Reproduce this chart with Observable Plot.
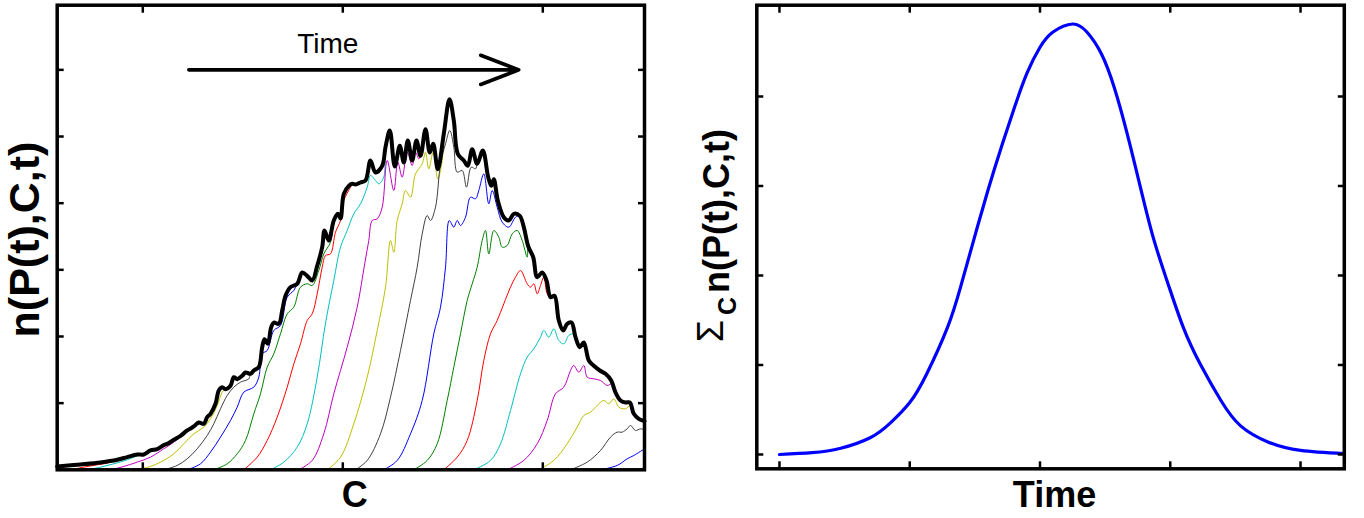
<!DOCTYPE html>
<html><head><meta charset="utf-8">
<script src="https://cdn.jsdelivr.net/npm/d3@7"></script>
<script src="https://cdn.jsdelivr.net/npm/@observablehq/plot@0.6"></script>
<style>
body{margin:0;background:#fff;}
#wrap{position:relative;width:1364px;height:518px;overflow:hidden;background:#fff;}
#wrap svg{position:absolute;top:0;}
</style></head><body><div id="wrap"></div>
<script>
// ---------- Left panel: envelope (thick black) ----------
const envC = [14.4,37.7,57.7,74.4,84.4,94.4,101,107.7,114.4,121,126,131,137.7,144.4,151,156,161,164.4,167.7,172.7,176,179.4,182.7,187.7,191,194.4,199.4,202.7,207.7,211,216,219.4,221.7,225,228.4,231,236,239.4,242.7,247.7,254.4,259.4,264.4,269.4,274.4,279.4,281.7,286,291,295,297.7,301,306,309.4,312.7,317.7,322.7,327.7,332.7,339.4,342.7,347,352,357,361,365,369.4,373.7,377.7,382.7,387,390.4,395,401,406.7,411,415,421,425,429.4,434.4,440,445.4,448.4,451,455,461,466,471,477,481,485.5,490.4,494.4,499.4,503.7,507.7,511.7,516,520.4,524.4,528.7,532.7,537,541,546,551,557,562.7,568.4,572.7,577.7,582.7,587,591,596,601.7];
const envV = [0.05,0.08,0.11,0.15,0.19,0.23,0.23,0.29,0.31,0.37,0.40,0.45,0.51,0.59,0.65,0.71,0.69,0.79,0.84,0.99,1.19,1.24,1.21,1.26,1.39,1.36,1.41,1.46,1.44,1.49,1.54,1.84,1.96,1.89,2.14,2.21,2.19,2.39,2.61,2.74,2.79,2.96,2.91,2.84,3.06,3.34,3.59,3.44,3.74,3.84,3.77,4.14,4.26,4.29,4.28,4.31,4.34,4.64,4.46,4.56,4.84,5.09,4.55,4.86,4.61,4.94,4.64,4.94,4.71,5.11,4.76,4.89,4.51,5.04,5.56,5.24,4.74,4.64,4.56,4.81,4.59,4.79,4.39,4.26,4.36,4.04,3.79,3.74,3.84,3.81,3.64,3.35,3.19,2.89,2.96,2.84,2.59,2.61,2.24,2.09,2.19,2.21,1.99,1.84,1.91,1.64,1.56,1.49,1.44,1.34,1.16,1.04,1.01,1.01,0.84,0.765,0.73];

// ---------- Left panel: time snapshots (thin coloured curves, MATLAB colour order) ----------
const curveColors = ["#ff0000","#00bfbf","#bf00bf","#bfbf00","#404040","#0000ff","#008000",
                     "#ff0000","#00bfbf","#bf00bf","#bfbf00","#404040","#0000ff","#008000",
                     "#ff0000","#00bfbf","#bf00bf","#bfbf00","#404040","#0000ff","#008000"];
const risingC = [
  [27.7,41,54.4,64.4],
  [44.4,57.7,71,84.4,94.4],
  [67.7,81,94.4,107.7,121,131,141],
  [94.4,107.7,117.7,131,141,151,161,167.7,174.4,179.4],
  [121,134.4,144.4,154.4,164.4,171,177.7,184.4,191,197.7,206],
  [144.4,157.7,167.7,177.7,187.7,194.4,201,211,216,219.4,224.4,231,237.7,244.4,251],
  [171,184.4,194.4,202.7,211,217.7,224.4,231,237.7,244.4,251,257.7,264.4,269.4,276,281,287.7],
  [201,214.4,224.4,234.4,244.4,251,257.7,264.4,269.4,274.4,279.4,282.7,287.7,292.7,297.7,301,307.7],
  [227.7,241,254.4,264.4,274.4,282.7,291,297.7,304.4,311,317.7,324.4,327.7,332.7,336,341],
  [256,269.4,281,291,304.4,314.4,322,326,329.4,334.4,339.4,344.4,351,355,359.4,364.4,369.4,372.7,376],
  [284.4,297.7,311,324.4,334.4,342.7,347.7,351,354.4,359.4,362.7,367.7,372.7,379.4,382.7,386,390.4,395,399.4],
  [312.7,324.4,337.7,347.7,357.7,367.7,374.4,379.4,384.4,387.7,392.7,397.7,402.7,407,411,414.4,419.4,423.7,428.4,432.7],
  [341,354.4,367.7,379.4,391,397.7,402.7,406.5,411,414.4,417.7,422.7,427.7,432.7,436,441,446,449.4,454.4,459.4,466,472.7],
  [371,384.4,394.4,404.4,411,417.7,424.4,429.4,434.4,439.4,442.7,446,451,456,459.4,464.4,469.4,474.4,479.4,484.4],
  [401,414.4,424.4,434.4,441,447.7,454.4,461,467.7,472.7,477.7,484.4,487.7,491,494.4,497.7,501,504.4],
  [431,447.7,457.7,467.7,477.7,484.4,491,497.7,501,506,511,516,521,526,531],
  [464.4,481,494.4,504.4,512.7,521,527.7,531,536,541,544.4,551,557.7,564.4,569.4],
  [496,511,524.4,534.4,541,547.7,554.4,561,566,571,576,582.7,587.7,592.7],
  [527.7,544.4,557.7,567.7,574.4,579.4,584.4,587.7,592.7,597.7,601.7],
  [557.7,574.4,584.4,591,601.7],
  [594.4,601.7]
];
const risingV = [
  [0,0.04,0.075,0.10],
  [0,0.04,0.09,0.15,0.21],
  [0,0.05,0.115,0.19,0.315,0.415,0.54],
  [0,0.05,0.115,0.24,0.39,0.54,0.64,0.765,0.965,1.165],
  [0,0.065,0.165,0.315,0.515,0.69,0.915,1.115,1.24,1.315,1.365],
  [0,0.09,0.265,0.49,0.74,0.94,1.165,1.24,1.39,1.74,1.79,2.09,2.165,2.59,2.69],
  [0,0.09,0.24,0.44,0.84,1.14,1.54,1.74,2.04,2.34,2.44,2.74,2.79,2.765,2.99,3.24,3.415],
  [0,0.19,0.44,0.79,1.24,1.59,1.89,2.24,2.34,2.64,3.04,3.215,3.24,3.565,3.74,4.04,4.24],
  [0,0.115,0.34,0.69,1.39,2.2,2.84,3.34,3.59,3.84,3.99,4.24,4.415,4.34,4.29,4.39],
  [0,0.14,0.54,1.14,1.84,2.44,3.1,3.44,3.74,3.765,3.94,4.64,4.19,4.615,4.39,4.765,4.565,4.765,4.665],
  [0,0.19,0.69,1.39,2.09,2.74,3.44,3.265,3.74,3.99,4.19,4.09,4.44,4.59,4.765,4.515,4.765,4.365,4.64],
  [0,0.14,0.54,1.09,1.79,2.54,3.04,3.54,3.815,3.74,3.94,4.59,4.89,5.09,4.84,4.465,4.49,4.24,4.54,4.515],
  [0,0.14,0.54,1.04,2.04,2.44,3.04,3.74,3.64,3.74,3.665,3.79,4.09,4.065,4.19,4.44,3.99,4.19,3.94,3.715,3.64,3.79],
  [0,0.14,0.39,1.04,1.54,2.04,2.54,2.79,3.04,3.44,3.59,3.24,3.59,3.49,3.34,3.365,3.54,3.59,3.44,3.19],
  [0,0.19,0.44,1.04,1.64,2.04,2.24,2.49,2.74,2.89,2.99,2.79,2.74,2.79,2.64,2.765,2.89,2.64],
  [0,0.14,0.39,0.89,1.44,1.69,1.815,1.99,2.09,1.99,2.115,1.94,1.89,2.015,2.04],
  [0,0.14,0.39,0.74,1.14,1.24,1.49,1.565,1.465,1.565,1.39,1.365,1.34,1.265,1.29],
  [0,0.14,0.39,0.64,0.815,0.865,0.965,1.04,0.99,1.065,0.94,0.915,0.965,0.79],
  [0,0.115,0.29,0.49,0.565,0.565,0.615,0.665,0.59,0.615,0.6],
  [0,0.065,0.165,0.215,0.315],
  [0,0.03]
];
// snapshot merges into the envelope after its last own point
const joinsEnvelope = [true,true,true,true,true,true,true,true,true,true,true,true,true,true,true,true,true,true,false,false,false];

// annotation: arrow and "Time" label (data coordinates)
const arrowC = [146, 476];
const arrowV = [6.0];
const annotText = ["Time"];
const annotC = [285];
const annotV = [6.38];

// ticks
const leftXTicks = [100, 300, 500];
const leftYTicks = [1, 2, 3, 4, 5, 6];

// ---------- Right panel: total over C vs time ----------
const sumT = [0,0.25,0.47,0.70,0.85,1.0,1.13,1.29,1.39,1.49,1.60,1.70,1.80,1.90,2.0,2.10,2.25,2.36,2.47,2.57,2.67,2.77,2.87,2.98,3.10,3.23,3.39,3.54,3.75,4.0,4.336];
const sumV = [0,0.02,0.07,0.19,0.35,0.58,0.90,1.42,1.87,2.39,2.95,3.42,3.86,4.26,4.55,4.72,4.81,4.72,4.48,4.10,3.58,2.99,2.42,1.92,1.42,1.01,0.60,0.32,0.14,0.045,0.01];
const rightXTicks = [0, 1, 2, 3, 4];
const rightYTicks = [0, 1, 2, 3, 4];

// ---------- helpers ----------
const FONT = "'Liberation Sans', Arial, Helvetica, sans-serif";
function boxAxes(xt, yt) {
  const common = {tickSize: -7, tickFormat: () => "", strokeWidth: 2.5, label: null};
  return [
    Plot.axisX({...common, anchor: "bottom", ticks: xt}),
    Plot.axisX({...common, anchor: "top", ticks: xt}),
    Plot.axisY({...common, anchor: "left", ticks: yt}),
    Plot.axisY({...common, anchor: "right", ticks: yt})
  ];
}

// ---------- Left chart ----------
const envRows = envC.map((c, i) => ({C: c, v: envV[i]}));
const snapshotMarks = risingC.map((cs, i) => {
  const pts = cs.map((c, j) => ({C: c, v: risingV[i][j]}));
  if (joinsEnvelope[i]) {
    const last = cs[cs.length - 1];
    envRows.forEach(r => { if (r.C > last) pts.push(r); });
  }
  return Plot.line(pts, {x: "C", y: "v", stroke: curveColors[i], strokeWidth: 1, curve: "catmull-rom"});
});

const left = Plot.plot({
  width: 680, height: 518,
  marginLeft: 56.7, marginRight: 36, marginTop: 4.7, marginBottom: 48.7,
  style: {fontFamily: FONT, background: "transparent", overflow: "visible"},
  x: {domain: [14.4, 601.7]},
  y: {domain: [0, 6.97]},
  marks: [
    ...snapshotMarks,
    Plot.line(envRows, {x: "C", y: "v", stroke: "black", strokeWidth: 4, curve: "catmull-rom", strokeLinejoin: "round"}),
    Plot.arrow([{x1: arrowC[0], x2: arrowC[1], y: arrowV[0]}], {x1: "x1", x2: "x2", y1: "y", y2: "y", stroke: "black", strokeWidth: 3.6, headLength: 17, headAngle: 42}),
    Plot.text(annotText.map((t, i) => ({t, C: annotC[i], v: annotV[i]})), {x: "C", y: "v", text: "t", fontSize: 28, fill: "black", lineAnchor: "middle"}),
    Plot.frame({stroke: "black", strokeWidth: 3.5}),
    ...boxAxes(leftXTicks, leftYTicks),
    Plot.text(["C"], {frameAnchor: "bottom", dx: 4, dy: 26, fontSize: 36, fontWeight: "bold", lineAnchor: "middle", textAnchor: "middle"}),
    Plot.text(["n(P(t),C,t)"], {frameAnchor: "left", rotate: -90, dx: -32, dy: 2, fontSize: 43, fontWeight: "bold", textAnchor: "middle", lineAnchor: "middle"})
  ]
});
left.style.left = "0px";

// ---------- Right chart ----------
const sumRows = sumT.map((t, i) => ({t, v: sumV[i]}));
const right = Plot.plot({
  width: 684, height: 518,
  marginLeft: 76.3, marginRight: 20.2, marginTop: 4.7, marginBottom: 49.7,
  style: {fontFamily: FONT, background: "transparent", overflow: "visible"},
  x: {domain: [-0.174, 4.336]},
  y: {domain: [-0.16, 5.02]},
  marks: [
    Plot.line(sumRows, {x: "t", y: "v", stroke: "#0000ff", strokeWidth: 3.2, curve: "natural"}),
    Plot.frame({stroke: "black", strokeWidth: 3.5}),
    ...boxAxes(rightXTicks, rightYTicks),
    Plot.text(["Time"], {frameAnchor: "bottom", dx: 4, dy: 27, fontSize: 36, fontWeight: "bold", lineAnchor: "middle", textAnchor: "middle"}),
    Plot.text(["n(P(t),C,t)"], {frameAnchor: "left", rotate: -90, dx: -39, dy: -26, fontSize: 36, fontWeight: "bold", textAnchor: "middle", lineAnchor: "middle"}),
    Plot.text(["C"], {frameAnchor: "left", rotate: -90, dx: -29, dy: 69, fontSize: 25, fontWeight: "bold", textAnchor: "middle", lineAnchor: "middle"}),
    Plot.text(["\u03A3"], {frameAnchor: "left", rotate: -90, dx: -45, dy: 94, fontSize: 36, fontWeight: "normal", textAnchor: "middle", lineAnchor: "middle"})
  ]
});
right.style.left = "680px";

const wrap = document.getElementById("wrap");
wrap.appendChild(left);
wrap.appendChild(right);
</script></body></html>
